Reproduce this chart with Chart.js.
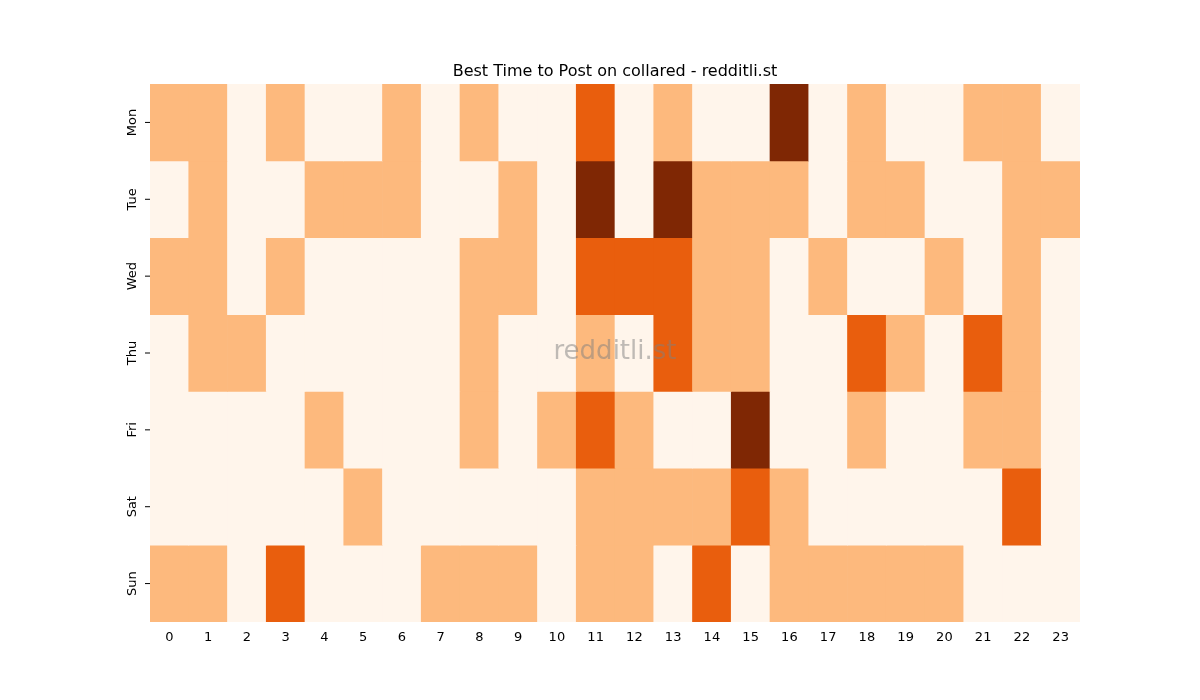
<!DOCTYPE html>
<html><head><meta charset="utf-8">
<script src="https://cdn.jsdelivr.net/npm/chart.js@4"></script>
<style>body{margin:0;background:#fff}#w{width:1200px;height:700px}</style>
</head><body><div id="w"><canvas id="c"></canvas></div>
<script>
const hours = ["0","1","2","3","4","5","6","7","8","9","10","11","12","13","14","15","16","17","18","19","20","21","22","23"];
const days = ["Mon","Tue","Wed","Thu","Fri","Sat","Sun"];
const Mon = [1,1,0,1,0,0,1,0,1,0,0,2,0,1,0,0,3,0,1,0,0,1,1,0];
const Tue = [0,1,0,0,1,1,1,0,0,1,0,3,0,3,1,1,1,0,1,1,0,0,1,1];
const Wed = [1,1,0,1,0,0,0,0,1,1,0,2,2,2,1,1,0,1,0,0,1,0,1,0];
const Thu = [0,1,1,0,0,0,0,0,1,0,0,1,0,2,1,1,0,0,2,1,0,2,1,0];
const Fri = [0,0,0,0,1,0,0,0,1,0,1,2,1,0,0,3,0,0,1,0,0,1,1,0];
const Sat = [0,0,0,0,0,1,0,0,0,0,0,1,1,1,1,2,1,0,0,0,0,0,2,0];
const Sun = [1,1,0,2,0,0,0,1,1,1,0,1,1,0,2,0,1,1,1,1,1,0,0,0];
const rows = [Mon,Tue,Wed,Thu,Fri,Sat,Sun];
const palette = ["#fff5eb","#fdb97d","#e95e0d","#7f2704"];
const font = "DejaVu Sans";
const datasets = rows.map((r,i)=>({label:days[i],data:r.map(()=>1),backgroundColor:r.map(v=>palette[v]),borderWidth:0,barPercentage:1,categoryPercentage:1,stack:"s"}));
const deco = {id:"deco",afterDraw(ch){
  const c=ch.ctx,y=ch.scales.y,a=ch.chartArea;
  c.save();c.fillStyle="#000";c.font="13px "+font;c.textAlign="center";c.textBaseline="middle";
  days.forEach((d,i)=>{const py=y.getPixelForValue(i+0.5);
    c.strokeStyle="#000";c.lineWidth=1;c.beginPath();c.moveTo(a.left-5,py);c.lineTo(a.left,py);c.stroke();
    c.save();c.translate(a.left-17,py);c.rotate(-Math.PI/2);c.fillText(d,0,0);c.restore();});
  c.font="16px "+font;c.textBaseline="alphabetic";c.fillText("Best Time to Post on collared - redditli.st",(a.left+a.right)/2,76);
  c.font="26px "+font;c.fillStyle="rgba(128,128,128,0.5)";c.textBaseline="middle";c.fillText("redditli.st",(a.left+a.right)/2,352);
  c.restore();}};
new Chart(document.getElementById("c"),{type:"bar",data:{labels:hours,datasets},
options:{responsive:true,maintainAspectRatio:false,animation:false,
layout:{padding:{left:110,right:120,top:84,bottom:48}},
plugins:{legend:{display:false},tooltip:{enabled:false}},
scales:{x:{stacked:true,grid:{display:false,drawTicks:true,tickLength:5,color:"#000"},border:{display:false},
  ticks:{color:"#000",font:{family:font,size:13},maxRotation:0,autoSkip:false,padding:3},afterFit(s){s.height=30;}},
 y:{stacked:true,min:0,max:7,reverse:true,grid:{display:false},border:{display:false},ticks:{display:false},afterFit(s){s.width=40;}}}},
plugins:[deco]});
</script></body></html>
